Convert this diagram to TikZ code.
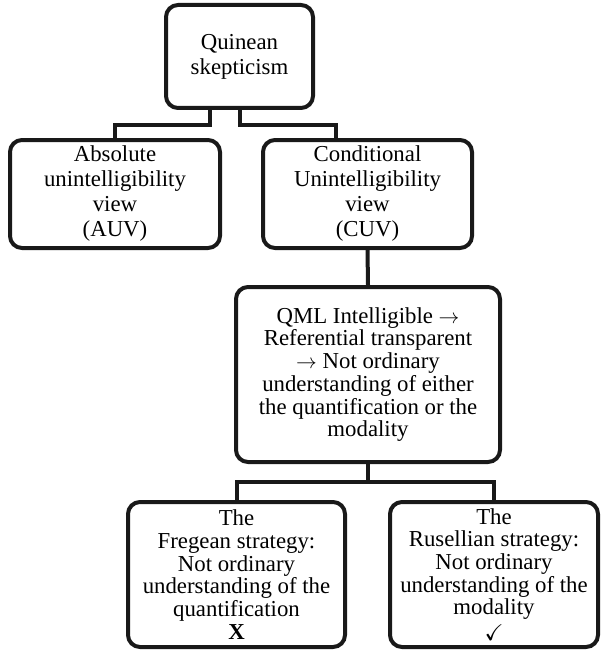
\documentclass[tikz,border=0pt]{standalone}
\usepackage{fontspec}
\usepackage{amssymb}
\setmainfont{Liberation Serif}
\begin{document}
\begin{tikzpicture}[x=1pt,y=1pt,
  box/.style={draw=black!90, line width=4pt, rounded corners=12pt, align=center,
    inner sep=2pt, font=\fontsize{22.8pt}{22.7pt}\selectfont},
  topbox/.style={box, font=\fontsize{22.8pt}{25pt}\selectfont},
  link/.style={draw=black!90, line width=4pt, line join=miter}]
\useasboundingbox (0,0) rectangle (600,-650);
\node[topbox, minimum width=147pt, minimum height=103pt] (q) at (239.5,-56.5) {Quinean\\skepticism};
\node[topbox, minimum width=210pt, minimum height=108pt] (auv) at (115,-194) {Absolute\\unintelligibility\\view\\(AUV)};
\node[topbox, minimum width=209pt, minimum height=108pt] (cuv) at (367.5,-194) {Conditional\\Unintelligibility\\view\\(CUV)};
\node[box, minimum width=264pt, minimum height=175pt] (qml) at (368,-374.5) {QML Intelligible $\rightarrow$\\Referential transparent\\$\rightarrow$ Not ordinary\\understanding of either\\the quantification or the\\modality};
\node[box, minimum width=217pt, minimum height=145pt] (fre) at (236.5,-574.5) {The\\Fregean strategy:\\Not ordinary\\understanding of the\\quantification\\\textbf{X}};
\node[box, minimum width=208pt, minimum height=145pt] (rus) at (494,-574.5) {The\\Rusellian strategy:\\Not ordinary\\understanding of the\\modality\\[3pt]$\checkmark$};
\draw[link] ([xshift=-30pt]q.south) -- ++(0,-15) -| (auv.north);
\draw[link] (q.south) -- ++(0,-15) -| ([xshift=-32pt]cuv.north);
\draw[link] (cuv.south) -- (qml.north);
\draw[link] (qml.south) -- ++(0,-18);
\draw[link] (fre.north) |- ([yshift=-18pt]qml.south) -| (rus.north);
\end{tikzpicture}
\end{document}
